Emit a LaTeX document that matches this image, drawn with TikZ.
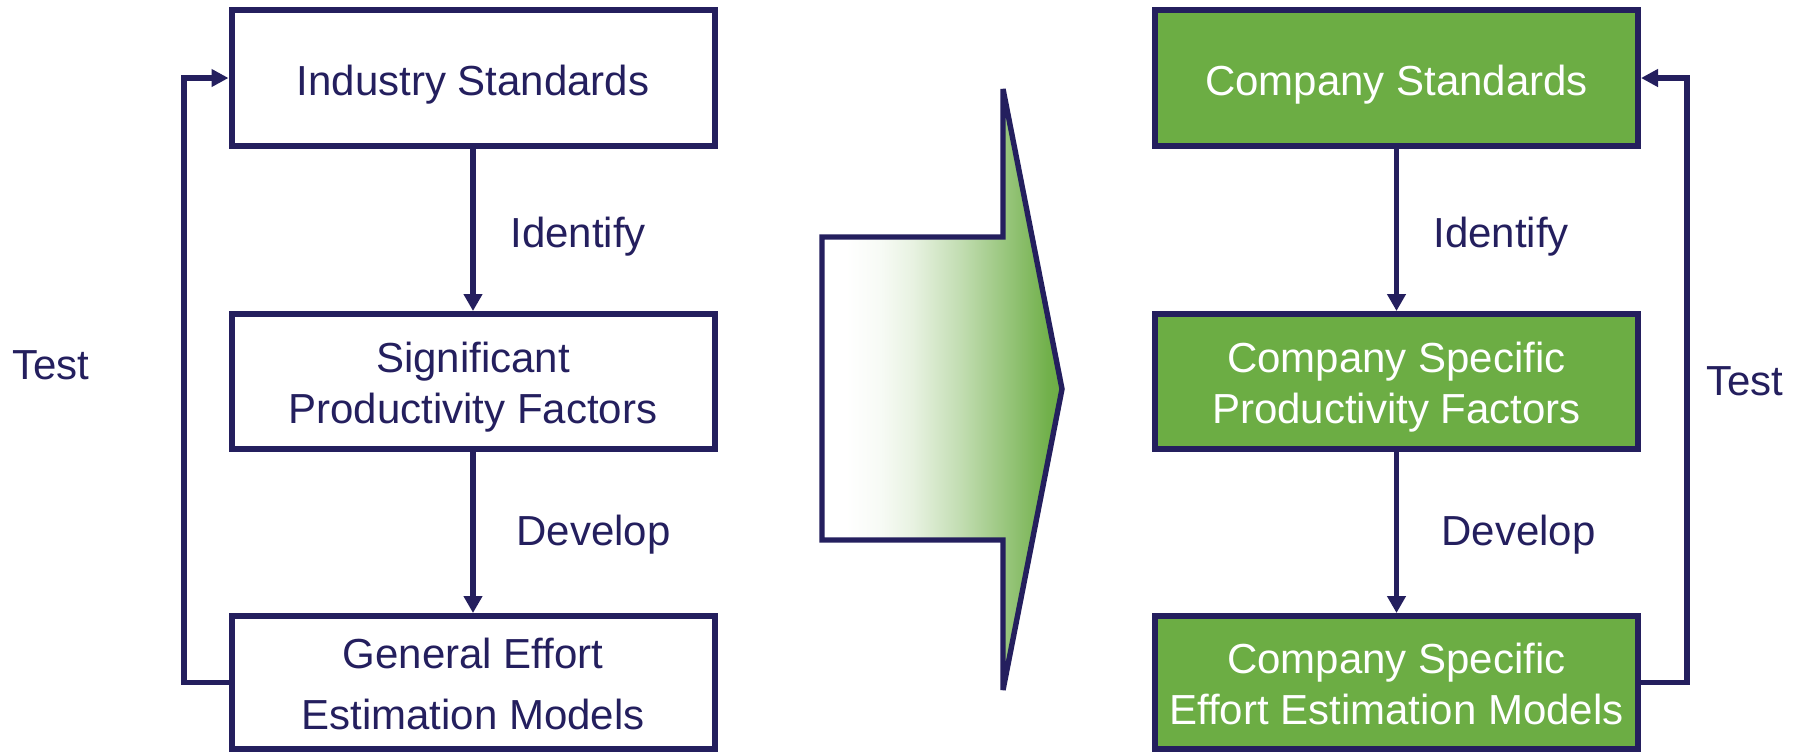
\documentclass[tikz,border=0pt]{standalone}
\usepackage{fontspec}
\setmainfont{Liberation Sans}
\usetikzlibrary{arrows.meta}

\definecolor{navy}{RGB}{36,31,94}
\definecolor{leaf}{RGB}{108,173,68}

% white-to-green fade across the transition arrow (25bp..75bp spans the path)
\pgfdeclarehorizontalshading{leaffade}{100bp}{%
  color(0bp)=(white); color(25bp)=(white); color(30bp)=(white);
  color(37bp)=(leaf!5); color(44bp)=(leaf!16); color(54bp)=(leaf!42);
  color(64bp)=(leaf!72); color(72bp)=(leaf!96); color(75bp)=(leaf);
  color(100bp)=(leaf)}

% text height/depth are measured from the last baseline of each label
\tikzset{
  stepbox/.style={draw=navy, line width=3pt, minimum width=241.5pt,
    inner sep=0pt, align=center, font=\fontsize{21}{25.5}\selectfont},
  plainbox/.style={stepbox, fill=white, text=navy},
  leafbox/.style={stepbox, fill=leaf, text=white},
  oneline/.style={text height=17pt, text depth=0pt},
  twoline/.style={text height=41.5pt, text depth=0pt},
  flow/.style={draw=navy, line width=2.6pt,
    -{Triangle[length=8.5pt, width=9pt]}},
  loopline/.style={draw=navy, line width=2.7pt, line join=miter,
    -{Triangle[length=8.5pt, width=8.5pt]}},
  tag/.style={text=navy, inner sep=0pt, anchor=base west,
    font=\fontsize{21}{25.5}\selectfont},
}

\begin{document}
\begin{tikzpicture}[x=0.5pt, y=-0.5pt]
\useasboundingbox (0,0) rectangle (1798,752);

% ---- generic approach (left column)
\node[plainbox, oneline, minimum height=68pt] (ind) at (473,78) {Industry Standards};
\node[plainbox, twoline, minimum height=67.5pt] (sig) at (473,381.5)
  {Significant\\Productivity Factors};
\node[plainbox, minimum height=66.5pt, text height=46.5pt, text depth=0pt,
      font=\fontsize{21}{30.5}\selectfont] (gen) at (473,682.5)
  {General Effort\\Estimation Models};

\draw[flow] (ind) -- (sig);
\draw[flow] (sig) -- (gen);
\node[tag] (idl) at (510,247) {Identify};
\node[tag] (dvl) at (516,545) {Develop};

\coordinate (loopL) at (184,0);
\draw[loopline] (gen.west) -- (loopL |- gen.west) -- (loopL |- ind.west) -- (ind.west);
\node[tag] (tsl) at (12,379) {Test};

% ---- transition arrow
\path[draw=navy, line width=2.7pt, line join=miter, shading=leaffade]
  (822,237) -- (1003,237) -- (1003,89) -- (1062,389) -- (1003,690)
  -- (1003,540) -- (822,540) -- cycle;

% ---- company-specific approach (right column)
\node[leafbox, oneline, minimum height=68pt] (cst) at (1396.5,78) {Company Standards};
\node[leafbox, twoline, minimum height=67.5pt] (cpf) at (1396.5,381.5)
  {Company Specific\\Productivity Factors};
\node[leafbox, twoline, minimum height=66.5pt] (cem) at (1396.5,682.5)
  {Company Specific\\Effort Estimation Models};

\draw[flow] (cst) -- (cpf);
\draw[flow] (cpf) -- (cem);
\node[tag] (idr) at (1433,247) {Identify};
\node[tag] (dvr) at (1441,545) {Develop};

\coordinate (loopR) at (1687,0);
\draw[loopline] (cem.east) -- (loopR |- cem.east) -- (loopR |- cst.east) -- (cst.east);
\node[tag] (tsr) at (1706,395) {Test};
\end{tikzpicture}
\end{document}
